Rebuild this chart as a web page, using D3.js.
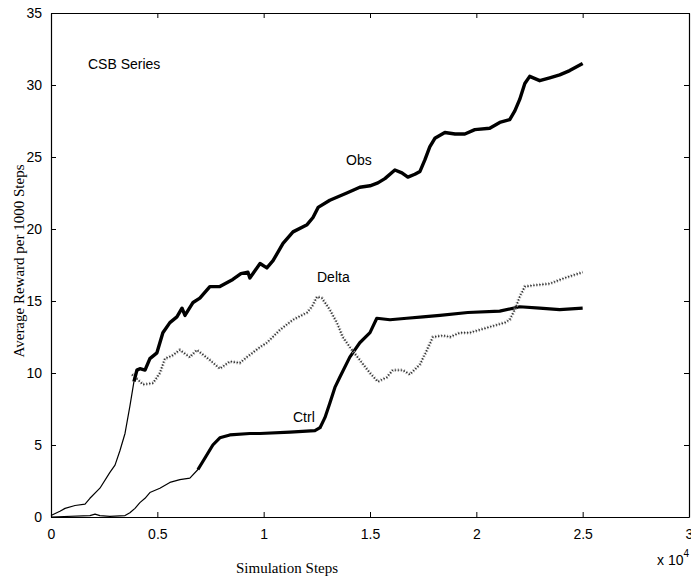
<!DOCTYPE html>
<html>
<head>
<meta charset="utf-8">
<script src="https://cdn.jsdelivr.net/npm/d3@7"></script>
<style>
  body { margin: 0; background: #fff; }
  svg { display: block; }
</style>
</head>
<body>
<svg id="chart" width="691" height="582"></svg>
<script>
// ---- data (steps, average reward per 1000 steps) ----
const obsSteps = [0, 420, 660, 1130, 1600, 1830, 2300, 2770, 3010, 3240, 3480, 3710, 3900, 4040, 4180, 4420, 4650, 4980, 5260, 5590, 5920, 6160, 6300, 6680, 7000, 7470, 7940, 8550, 8930, 9260, 9350, 9830, 10150, 10440, 10910, 11380, 12040, 12320, 12560, 13110, 13910, 14520, 15000, 15370, 15700, 16170, 16500, 16780, 17110, 17350, 17580, 17810, 18050, 18520, 19000, 19460, 19930, 20630, 21100, 21570, 21810, 22040, 22280, 22510, 22980, 23450, 23920, 24390, 25000];
const obsValues = [0.1, 0.4, 0.6, 0.8, 0.9, 1.3, 2.0, 3.1, 3.6, 4.6, 5.8, 7.7, 9.4, 10.2, 10.3, 10.2, 11.0, 11.4, 12.8, 13.5, 13.9, 14.5, 14.0, 14.9, 15.2, 16.0, 16.0, 16.5, 16.9, 17.0, 16.6, 17.6, 17.3, 17.8, 19.0, 19.8, 20.3, 20.8, 21.5, 22.0, 22.5, 22.9, 23.0, 23.2, 23.5, 24.1, 23.9, 23.6, 23.8, 24.0, 24.8, 25.7, 26.3, 26.7, 26.6, 26.6, 26.9, 27.0, 27.4, 27.6, 28.2, 29.0, 30.1, 30.6, 30.3, 30.5, 30.7, 31.0, 31.5];

const deltaSteps = [3810, 4040, 4330, 4800, 5120, 5360, 5690, 6060, 6530, 6860, 7470, 7940, 8410, 8880, 9210, 9830, 10150, 10770, 11380, 12040, 12270, 12510, 12740, 13110, 13440, 13720, 14050, 14520, 15000, 15370, 15790, 16070, 16540, 16870, 17350, 17680, 17960, 18430, 18760, 19230, 19700, 20630, 21340, 21570, 21810, 22040, 22280, 22750, 23450, 24160, 25000];
const deltaValues = [9.9, 9.6, 9.2, 9.3, 10.0, 11.0, 11.2, 11.6, 11.1, 11.6, 10.9, 10.3, 10.8, 10.7, 11.1, 11.8, 12.1, 13.0, 13.7, 14.2, 14.6, 15.3, 15.2, 14.4, 13.5, 12.5, 11.8, 10.9, 10.0, 9.4, 9.7, 10.2, 10.2, 9.9, 10.6, 11.6, 12.5, 12.6, 12.5, 12.8, 12.8, 13.2, 13.5, 13.7, 14.4, 15.3, 16.0, 16.1, 16.2, 16.6, 17.0];

const ctrlSteps = [0, 1830, 2070, 2300, 2770, 3480, 3710, 3950, 4180, 4420, 4650, 5120, 5590, 6060, 6530, 6910, 7240, 7610, 7940, 8410, 9350, 9830, 11240, 12410, 12650, 12880, 13110, 13350, 13580, 14050, 14520, 15000, 15320, 15940, 16730, 17490, 18290, 19600, 21100, 22040, 22980, 23920, 25000];
const ctrlValues = [0.0, 0.1, 0.2, 0.1, 0.05, 0.1, 0.3, 0.6, 1.0, 1.3, 1.7, 2.0, 2.4, 2.6, 2.7, 3.3, 4.1, 5.0, 5.5, 5.7, 5.8, 5.8, 5.9, 6.0, 6.2, 6.9, 7.9, 9.0, 9.7, 11.1, 12.1, 12.8, 13.8, 13.7, 13.8, 13.9, 14.0, 14.2, 14.3, 14.6, 14.5, 14.4, 14.5];

const xTicks = [0, 5000, 10000, 15000, 20000, 25000, 30000];
const xTickLabels = ["0", "0.5", "1", "1.5", "2", "2.5", "3"];
const yTicks = [0, 5, 10, 15, 20, 25, 30, 35];

const seriesLabels = ["Obs", "Delta", "Ctrl"];
const titleText = "CSB Series";
const xLabel = "Simulation Steps";
const yLabel = "Average Reward per 1000 Steps";

// ---- layout ----
const svg = d3.select("#chart");
const L = 51, R = 689, T = 13, B = 517;
const x = d3.scaleLinear().domain([0, 30000]).range([L, R]);
const y = d3.scaleLinear().domain([0, 35]).range([B, T]);

const sans = "'Liberation Sans', Arial, Helvetica, sans-serif";
const serif = "'Liberation Serif', 'Times New Roman', serif";

const zip = (xs, ys) => xs.map((v, i) => [v, ys[i]]);
const line = d3.line().x(d => x(d[0])).y(d => y(d[1]));

const obs = zip(obsSteps, obsValues);
const delta = zip(deltaSteps, deltaValues);
const ctrl = zip(ctrlSteps, ctrlValues);

const plot = svg.append("g");

// Ctrl: thin early, thick later
plot.append("path").datum(ctrl.filter(d => d[0] <= 7300)).attr("d", line)
  .attr("fill", "none").attr("stroke", "#000").attr("stroke-width", 1.2).attr("stroke-linejoin", "round");
plot.append("path").datum(ctrl.filter(d => d[0] >= 6900)).attr("d", line)
  .attr("fill", "none").attr("stroke", "#000").attr("stroke-width", 3.2).attr("stroke-linejoin", "round");

// Delta: noisy dotted band
plot.append("path").datum(delta).attr("d", line)
  .attr("fill", "none").attr("stroke", "#aaa").attr("stroke-width", 3.6)
  .attr("stroke-dasharray", "1 2").attr("stroke-linejoin", "round");
plot.append("path").datum(delta).attr("d", line)
  .attr("fill", "none").attr("stroke", "#333").attr("stroke-width", 1.4)
  .attr("stroke-dasharray", "1.5 1.5").attr("stroke-linejoin", "round");

// Obs: thin early, thick later
plot.append("path").datum(obs.filter(d => d[0] <= 4000)).attr("d", line)
  .attr("fill", "none").attr("stroke", "#000").attr("stroke-width", 1.2).attr("stroke-linejoin", "round");
plot.append("path").datum(obs.filter(d => d[0] >= 3900)).attr("d", line)
  .attr("fill", "none").attr("stroke", "#000").attr("stroke-width", 3.4).attr("stroke-linejoin", "round");

// ---- axes (MATLAB box with inward ticks) ----
const xAxisB = d3.axisBottom(x).tickValues(xTicks).tickFormat((d, i) => xTickLabels[i]).tickSizeInner(-5).tickSizeOuter(0).tickPadding(12);
const xAxisT = d3.axisTop(x).tickValues(xTicks).tickFormat("").tickSizeInner(-5).tickSizeOuter(0);
const yAxisL = d3.axisLeft(y).tickValues(yTicks).tickFormat(d3.format("d")).tickSizeInner(-5).tickSizeOuter(0).tickPadding(9);
const yAxisR = d3.axisRight(y).tickValues(yTicks).tickFormat("").tickSizeInner(-5).tickSizeOuter(0);

function style(g) {
  g.selectAll("path.domain").attr("stroke", "#000").attr("stroke-width", 1.2);
  g.selectAll(".tick line").attr("stroke", "#000").attr("stroke-width", 1);
  g.selectAll("text").attr("fill", "#000").style("font-family", sans).style("font-size", "14px");
}
svg.append("g").attr("transform", `translate(0,${B})`).call(xAxisB).call(style);
svg.append("g").attr("transform", `translate(0,${T})`).call(xAxisT).call(style);
svg.append("g").attr("transform", `translate(${L},0)`).call(yAxisL).call(style);
svg.append("g").attr("transform", `translate(${R},0)`).call(yAxisR).call(style);

// exponent label
const ex = svg.append("text").attr("x", 657).attr("y", 565)
  .style("font-family", sans).style("font-size", "14px").attr("fill", "#000");
ex.append("tspan").text("x 10");
ex.append("tspan").attr("dy", -8).style("font-size", "10px").text("4");

// titles
svg.append("text").attr("x", 88).attr("y", 69).text(titleText)
  .style("font-family", sans).style("font-size", "14px").attr("fill", "#000");
const labelPos = [[346, 165], [317, 282], [293, 422]];
seriesLabels.forEach((s, i) => {
  svg.append("text").attr("x", labelPos[i][0]).attr("y", labelPos[i][1]).text(s)
    .style("font-family", sans).style("font-size", "14px").attr("fill", "#000");
});

svg.append("text").attr("x", 287).attr("y", 573).attr("text-anchor", "middle").text(xLabel)
  .style("font-family", serif).style("font-size", "15px").attr("fill", "#000");
svg.append("text").attr("transform", "translate(24,261) rotate(-90)").attr("text-anchor", "middle")
  .text(yLabel)
  .style("font-family", serif).style("font-size", "15px").attr("fill", "#000");
</script>
</body>
</html>
